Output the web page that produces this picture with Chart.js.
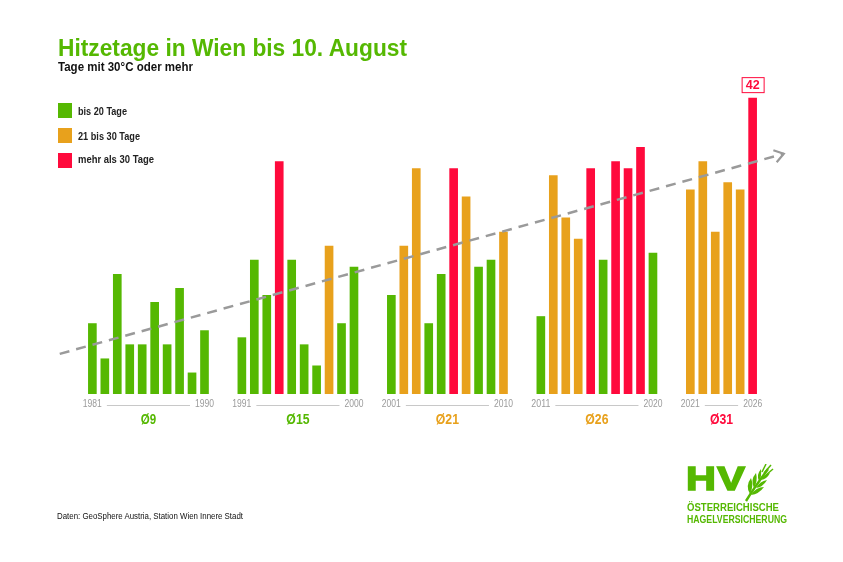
<!DOCTYPE html>
<html>
<head>
<meta charset="utf-8">
<script src="https://cdn.jsdelivr.net/npm/chart.js@4.4.1/dist/chart.umd.min.js"></script>
<style>
  html, body { margin:0; padding:0; background:#fff; }
  #wrap { position:relative; width:843px; height:562px; overflow:hidden; }
  canvas { position:absolute; left:0; top:0; }
  .t { position:absolute; white-space:nowrap; line-height:1; font-family:"Liberation Sans",Arial,sans-serif; transform-origin:left top; }
  #title { left:58px; top:37px; font-size:23px; font-weight:bold; color:#55b802; }
  #sub { left:58px; top:60.5px; font-size:12px; font-weight:bold; color:#111; }
  .lg { position:absolute; left:58px; width:14px; height:15px; }
  .lgt { left:78px; font-size:11px; font-weight:bold; color:#222; }
  #foot { left:57px; top:511px; font-size:9.5px; color:#111; }
  #hv { left:686px; top:461px; font-size:34px; font-weight:bold; color:#55b802; -webkit-text-stroke:1.6px #55b802; letter-spacing:1px; }
  .lt { left:687px; font-size:11px; font-weight:bold; color:#55b802; }
</style>
</head>
<body>
<div id="wrap">
  <canvas id="c" width="843" height="562"></canvas>
  <div class="t" id="title" data-w="349">Hitzetage in Wien bis 10. August</div>
  <div class="t" id="sub" data-w="135">Tage mit 30°C oder mehr</div>
  <div class="lg" style="top:103px;background:#55b802"></div>
  <div class="t lgt" style="top:105.7px" data-w="49">bis 20 Tage</div>
  <div class="lg" style="top:128px;background:#e8a11c"></div>
  <div class="t lgt" style="top:130.7px" data-w="62">21 bis 30 Tage</div>
  <div class="lg" style="top:153px;background:#ff0a3c"></div>
  <div class="t lgt" style="top:154.2px" data-w="76">mehr als 30 Tage</div>
  <div class="t" id="foot" data-w="186">Daten: GeoSphere Austria, Station Wien Innere Stadt</div>
  <div class="t" id="hv" data-w="60">HV</div>
  <svg style="position:absolute;left:742px;top:464px" width="32" height="40" viewBox="0 0 32 40">
    <g fill="#55b802" stroke="none">
      <path d="M4 37 Q12 24 26 5" stroke="#55b802" stroke-width="2.4" fill="none"/>
      <path d="M8 30 Q3 22 9 14 Q12 22 8 30 Z"/>
      <path d="M12 24 Q8 16 14 9 Q16 17 12 24 Z"/>
      <path d="M17 17 Q14 11 19 5 Q20 12 17 17 Z"/>
      <path d="M9 31 Q17 30 22 23 Q14 23 9 31 Z"/>
      <path d="M14 24 Q21 23 25 16 Q18 17 14 24 Z"/>
      <path d="M19 16 Q25 15 28 9 Q22 10 19 16 Z"/>
      <path d="M22 9 L29 1" stroke="#55b802" stroke-width="1.5"/>
      <path d="M24 11 L31 5" stroke="#55b802" stroke-width="1.5"/>
      <path d="M20 8 L24 0" stroke="#55b802" stroke-width="1.5"/>
    </g>
  </svg>
  <div class="t lt" style="top:502px" data-w="92">ÖSTERREICHISCHE</div>
  <div class="t lt" style="top:513.5px" data-w="100">HAGELVERSICHERUNG</div>
</div>
<script>
// ---- data ----
const years = [1981,1982,1983,1984,1985,1986,1987,1988,1989,1990,
               1991,1992,1993,1994,1995,1996,1997,1998,1999,2000,
               2001,2002,2003,2004,2005,2006,2007,2008,2009,2010,
               2011,2012,2013,2014,2015,2016,2017,2018,2019,2020,
               2021,2022,2023,2024,2025,2026];
const hotDays = [10,5,17,7,7,13,7,15,3,9,
                 8,19,14,33,19,7,4,21,10,18,
                 14,21,32,10,17,32,28,18,19,23,
                 11,31,25,22,32,19,33,32,35,20,
                 29,33,23,30,29,42];
// colour class as shown in the picture: g = bis 20, o = 21 bis 30, r = mehr als 30
const dayClass = ['g','g','g','g','g','g','g','g','g','g',
                  'g','g','g','r','g','g','g','o','g','g',
                  'g','o','o','g','g','r','o','g','g','o',
                  'g','o','o','o','r','g','r','r','r','g',
                  'o','o','o','o','o','r'];
const groupFirst = ['1981','1991','2001','2011','2021'];
const groupLast  = ['1990','2000','2010','2020','2026'];
const groupAvg   = ['Ø9','Ø15','Ø21','Ø26','Ø31'];
const groupAvgClass = ['g','g','o','o','r'];
const trendStart = {x:-2.62, y:5.7};
const trendEnd   = {x:55.5, y:34.1};

// ---- fit overlay text widths ----
document.querySelectorAll('[data-w]').forEach(el => {
  const w = el.getBoundingClientRect().width;
  const target = parseFloat(el.dataset.w);
  if (w > 0) el.style.transform = 'scaleX(' + (target / w) + ')';
});

// ---- styles ----
const COL = {g:'#55b802', o:'#e8a11c', r:'#ff0a3c'};
const GROUP_SIZE = 10, GROUP_GAP = 2;
const slotOf = i => i + GROUP_GAP * Math.floor(i / GROUP_SIZE);

const barData = years.map((y, i) => ({x: slotOf(i), y: hotDays[i]}));

function fitText(ctx, txt, x, y, maxW) {
  const w = ctx.measureText(txt).width;
  const s = Math.min(1, maxW / w);
  ctx.save(); ctx.translate(x, y); ctx.scale(s, 1); ctx.fillText(txt, 0, 0); ctx.restore();
  return w * s;
}

const overlay = {
  id:'overlay',
  afterDatasetsDraw(chart) {
    const ctx = chart.ctx, xs = chart.scales.x, ys = chart.scales.y;
    const base = ys.getPixelForValue(0);
    ctx.save();
    for (let g = 0; g < groupFirst.length; g++) {
      const firstIdx = g * GROUP_SIZE;
      const lastIdx = Math.min(years.length - 1, firstIdx + GROUP_SIZE - 1);
      const x0 = xs.getPixelForValue(slotOf(firstIdx));
      const x1 = xs.getPixelForValue(slotOf(lastIdx));
      ctx.font = '10px "Liberation Sans",Arial,sans-serif';
      ctx.fillStyle = '#9a9a9a';
      ctx.textBaseline = 'middle';
      ctx.textAlign = 'center';
      const ly = base + 10.5;
      const w0 = fitText(ctx, groupFirst[g], x0, ly, 19) / 2 + 5;
      const w1 = fitText(ctx, groupLast[g], x1, ly, 19) / 2 + 5;
      ctx.strokeStyle = '#c8c8c8'; ctx.lineWidth = 1;
      ctx.beginPath(); ctx.moveTo(x0 + w0, Math.round(ly) + 0.5); ctx.lineTo(x1 - w1, Math.round(ly) + 0.5); ctx.stroke();
      ctx.font = 'bold 14px "Liberation Sans",Arial,sans-serif';
      ctx.fillStyle = COL[groupAvgClass[g]];
      fitText(ctx, groupAvg[g], (x0 + x1) / 2, base + 26.5, groupAvg[g].length * 7.7);
    }
    // highlight last value
    const li = hotDays.length - 1;
    const bx = xs.getPixelForValue(slotOf(li));
    const by = ys.getPixelForValue(hotDays[li]);
    ctx.font = 'bold 12.5px "Liberation Sans",Arial,sans-serif';
    ctx.fillStyle = '#fff';
    ctx.fillRect(bx - 11, by - 21, 22, 15);
    ctx.strokeStyle = COL.r; ctx.lineWidth = 1;
    ctx.strokeRect(bx - 11 + 0.5, by - 21 + 0.5, 22, 15);
    ctx.fillStyle = COL.r;
    ctx.textAlign = 'center'; ctx.textBaseline = 'middle';
    ctx.fillText(String(hotDays[li]), bx, by - 13);
    // arrow head on trend
    const ax = xs.getPixelForValue(trendEnd.x), ay = ys.getPixelForValue(trendEnd.y);
    const px = xs.getPixelForValue(trendStart.x), py = ys.getPixelForValue(trendStart.y);
    const ang = Math.atan2(ay - py, ax - px);
    ctx.strokeStyle = '#999'; ctx.lineWidth = 2.2; ctx.setLineDash([]);
    ctx.beginPath();
    ctx.moveTo(ax - 11 * Math.cos(ang - 0.6), ay - 11 * Math.sin(ang - 0.6));
    ctx.lineTo(ax, ay);
    ctx.lineTo(ax - 11 * Math.cos(ang + 0.6), ay - 11 * Math.sin(ang + 0.6));
    ctx.stroke();
    ctx.restore();
  }
};

new Chart(document.getElementById('c'), {
  data: {
    datasets: [
      {
        type:'bar',
        data: barData,
        backgroundColor: dayClass.map(c => COL[c]),
        barThickness: 8,
        order: 2
      },
      {
        type:'line',
        data: [trendStart, trendEnd],
        borderColor:'#9a9a9a',
        borderWidth:2.5,
        borderDash:[10,7],
        pointRadius:0,
        clip:false,
        order: 1
      }
    ]
  },
  options: {
    responsive:false,
    animation:false,
    devicePixelRatio: 1,
    layout: { padding: { top:77, bottom:168, left:55, right:53 } },
    scales: {
      x: { type:'linear', min:-3, max:56, display:false, offset:false },
      y: { type:'linear', min:0, max:45, display:false }
    },
    plugins: { legend:{display:false}, tooltip:{enabled:false} }
  },
  plugins:[overlay]
});
</script>
</body>
</html>
